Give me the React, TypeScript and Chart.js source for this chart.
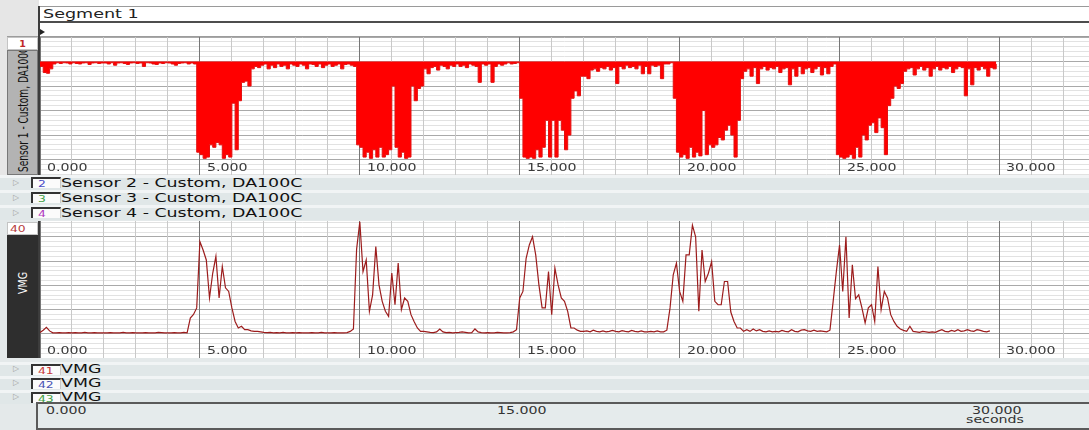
import React, { useEffect, useRef } from "react";
import { Chart, registerables } from "chart.js";

Chart.register(...registerables);

// ---------- data ----------
const STEP = 0.1; // seconds between samples
const X_MAX = 32.8;
const X_MAJOR = [0, 5, 10, 15, 20, 25, 30];
const X_LABELS = ["0.000", "5.000", "10.000", "15.000", "20.000", "25.000", "30.000"];

// Sensor 1 - Custom, DA100C (t = 0.0 ... 29.9 s)
const SENSOR1 = [
  -0.2, -0.45, -0.48, -0.3, -0.1, -0.05, -0.08, -0.05, -0.06, -0.1,
  -0.05, -0.08, -0.1, -0.06, -0.05, -0.12, -0.06, -0.05, -0.08, -0.06,
  -0.06, -0.1, -0.05, -0.15, -0.06, -0.05, -0.08, -0.12, -0.06, -0.05,
  -0.08, -0.06, -0.2, -0.05, -0.06, -0.1, -0.12, -0.06, -0.08, -0.05,
  -0.06, -0.1, -0.15, -0.08, -0.06, -0.05, -0.1, -0.06, -0.1, -3.7,
  -3.8, -3.95, -3.9, -3.4, -3.5, -3.3, -3.4, -3.95, -3.8, -3.9,
  -1.7, -3.6, -1.6, -0.85, -0.8, -1.0, -0.3, -0.2, -0.25, -0.15,
  -0.1, -0.3, -0.15, -0.25, -0.1, -0.2, -0.15, -0.3, -0.1, -0.15,
  -0.2, -0.1, -0.15, -0.3, -0.1, -0.12, -0.2, -0.1, -0.25, -0.15,
  -0.1, -0.2, -0.15, -0.1, -0.3, -0.12, -0.1, -0.15, -0.2, -3.4,
  -3.5, -3.9, -3.7, -3.95, -3.6, -3.9, -3.5, -3.9, -3.8, -3.6,
  -1.0, -3.5, -3.9, -3.7, -3.95, -3.9, -1.0, -1.6, -1.1, -1.0,
  -0.3, -0.5, -0.25, -0.2, -0.35, -0.15, -0.2, -0.3, -0.15, -0.2,
  -0.1, -0.2, -0.15, -0.25, -0.1, -0.15, -0.2, -0.85, -0.1, -0.15,
  -0.1, -0.85, -0.2, -0.1, -0.15, -0.1, -0.05, -0.1, -0.08, -0.05,
  -1.5, -3.9, -3.95, -3.9, -3.95, -3.6, -3.9, -3.5, -2.4, -3.9,
  -2.4, -3.9, -2.4, -2.8, -3.6, -3.0, -1.5, -1.2, -1.4, -0.6,
  -0.6, -0.7, -0.35, -0.3, -0.4, -0.25, -0.3, -0.2, -0.35, -0.25,
  -0.9, -0.2, -0.3, -0.15, -0.25, -0.2, -0.3, -0.15, -0.5, -0.2,
  -0.5, -0.15, -0.2, -0.15, -0.7, -0.1, -0.1, -0.05, -1.5, -3.7,
  -3.9, -3.8, -3.95, -3.5, -3.9, -3.7, -3.85, -2.0, -3.8, -3.4,
  -3.5, -3.4, -3.1, -3.2, -2.8, -2.6, -3.0, -3.9, -2.4, -0.7,
  -0.4, -0.3, -0.6, -0.25, -0.9, -0.3, -0.2, -0.35, -0.25, -0.3,
  -0.2, -0.45, -0.3, -0.25, -0.95, -0.3, -0.6, -0.2, -0.5, -0.3,
  -0.25, -0.45, -0.3, -0.2, -0.55, -0.25, -0.5, -0.2, -0.1, -3.8,
  -3.9, -3.95, -3.9, -3.8, -3.95, -3.5, -3.9, -3.0, -3.2, -2.6,
  -2.5, -2.9, -2.3, -2.7, -3.8, -1.8, -1.5, -1.0, -1.1, -0.9,
  -0.4, -0.3, -0.25, -0.55, -0.3, -0.2, -0.35, -0.25, -0.6, -0.3,
  -0.2, -0.35, -0.25, -0.3, -0.2, -0.45, -0.3, -0.2, -0.25, -1.4,
  -0.3, -0.95, -0.25, -0.35, -0.2, -0.3, -0.6, -0.25, -0.3, -0.1,
];

// VMG (t = 0.0 ... 29.7 s)
const VMG = [
  10.5, 11.5, 12.7, 11.2, 10.4, 10.4, 10.5, 10.4, 10.4, 10.5,
  10.4, 10.5, 10.4, 10.4, 10.6, 10.4, 10.4, 10.5, 10.4, 10.4,
  10.4, 10.4, 10.5, 10.4, 10.4, 10.4, 10.6, 10.4, 10.4, 10.5,
  10.4, 10.4, 10.4, 10.5, 10.4, 10.4, 10.4, 10.6, 10.5, 10.4,
  10.4, 10.4, 10.5, 10.4, 10.4, 10.6, 10.4, 16.5, 18.0, 20.7,
  48.1, 44.6, 40.5, 24.8, 35.0, 42.0, 24.8, 37.8, 29.0, 27.5,
  20.7, 15.1, 12.4, 13.1, 11.7, 11.7, 11.2, 11.0, 11.0, 10.8,
  10.6, 10.5, 10.6, 10.4, 10.5, 10.4, 10.6, 10.4, 10.4, 10.5,
  10.4, 10.5, 10.4, 10.4, 10.4, 10.5, 10.4, 10.4, 10.6, 10.4,
  10.4, 10.4, 10.5, 10.4, 10.4, 10.4, 10.5, 11.0, 12.0, 45.0,
  56.3, 35.7, 40.5, 19.3, 26.1, 46.0, 30.2, 23.4, 19.3, 17.2,
  35.1, 22.0, 39.2, 20.0, 24.8, 23.4, 17.9, 15.0, 12.4, 11.0,
  11.0, 10.8, 10.6, 10.5, 10.8, 12.0, 10.8, 10.5, 10.6, 10.4,
  10.5, 10.6, 10.8, 10.6, 10.4, 10.5, 12.0, 10.8, 10.5, 10.4,
  10.5, 10.4, 10.4, 10.6, 10.5, 10.4, 10.4, 10.5, 10.8, 11.7,
  24.8, 27.5, 41.2, 46.7, 50.1, 42.6, 30.2, 20.7, 20.7, 35.7,
  17.9, 37.1, 30.2, 24.8, 23.4, 19.3, 12.4, 12.4, 11.5, 11.0,
  11.0, 11.2, 10.8, 11.5, 11.0, 10.8, 11.2, 10.8, 11.0, 11.4,
  11.0, 10.8, 11.3, 11.0, 10.8, 11.4, 11.0, 10.8, 11.2, 10.8,
  10.8, 11.0, 10.8, 11.2, 10.8, 10.8, 11.5, 20.7, 34.4, 39.2,
  27.5, 23.4, 42.6, 42.6, 54.9, 50.1, 19.3, 44.6, 31.6, 35.0,
  39.8, 23.4, 22.0, 22.0, 31.6, 31.6, 19.0, 15.1, 12.4, 12.4,
  11.0, 11.7, 11.0, 12.0, 11.2, 11.7, 11.0, 10.8, 11.2, 10.8,
  11.0, 10.8, 11.4, 11.0, 10.8, 11.7, 11.0, 10.8, 11.5, 11.7,
  11.2, 11.0, 11.5, 11.0, 11.2, 11.0, 10.8, 11.5, 23.4, 35.7,
  46.7, 27.5, 50.1, 16.5, 38.5, 24.5, 26.1, 20.7, 14.5, 20.7,
  22.0, 15.1, 37.8, 20.0, 27.5, 24.8, 17.9, 15.1, 13.1, 12.0,
  11.4, 11.0, 13.1, 11.0, 10.8, 10.6, 11.0, 10.8, 10.6, 10.8,
  10.6, 11.2, 11.7, 11.0, 10.8, 11.4, 11.0, 11.7, 11.0, 11.2,
  11.7, 11.2, 11.0, 11.7, 11.4, 11.0, 10.8, 11.2,
];

const S1_RANGE = [-4.63, 1];
const VMG_RANGE = [0, 56.6];

const UPPER_ROWS = [
  ["2", "#4b4bc6", "Sensor 2 - Custom, DA100C"],
  ["3", "#3f9f45", "Sensor 3 - Custom, DA100C"],
  ["4", "#b03cc0", "Sensor 4 - Custom, DA100C"],
];
const LOWER_ROWS = [
  ["41", "#c83c3c", "VMG"],
  ["42", "#4a55b5", "VMG"],
  ["43", "#3f9f45", "VMG"],
];
const RULER_LABELS = ["0.000", "15.000", "30.000"];
const RULER_UNIT = "seconds";

// ---------- chart helpers ----------
const insideLabels = {
  id: "insideLabels",
  afterDraw(chart: any) {
    const { ctx, chartArea } = chart;
    const xs = chart.scales.x;
    ctx.save();
    ctx.fillStyle = "#3a3a3a";
    ctx.font = '10.5px "DejaVu Sans"';
    ctx.textAlign = "left";
    ctx.textBaseline = "alphabetic";
    X_MAJOR.forEach((v, i) => {
      ctx.save();
      ctx.translate(Math.round(xs.getPixelForValue(v)) + 7, chartArea.bottom - 4);
      ctx.scale(1.35, 1);
      ctx.fillText(X_LABELS[i], 0, 0);
      ctx.restore();
    });
    ctx.restore();
  },
};

function makeConfig(values: number[], range: number[], step: number, ds: any): any {
  return {
    type: "line",
    data: {
      datasets: [
        {
          data: values.map((v, i) => ({ x: Math.round(i * STEP * 10) / 10, y: v })),
          pointRadius: 0,
          tension: 0,
          ...ds,
        },
      ],
    },
    options: {
      animation: false,
      responsive: false,
      events: [],
      layout: { padding: 0 },
      plugins: { legend: { display: false }, tooltip: { enabled: false } },
      scales: {
        y: {
          type: "linear",
          min: range[0],
          max: range[1],
          ticks: { display: false, stepSize: step, includeBounds: false },
          grid: {
            z: -1,
            drawTicks: false,
            color: (c: any) => {
              const r = c.tick ? c.tick.value / (step * 5) : 0.5;
              return Math.abs(r - Math.round(r)) < 1e-6 ? "#a9a9a9" : "#e2e2e2";
            },
          },
          border: { display: false },
        },
        x: {
          type: "linear",
          min: 0,
          max: X_MAX,
          ticks: { display: false, stepSize: 1, includeBounds: false },
          grid: {
            drawTicks: false,
            color: (c: any) =>
              c.tick && Math.abs(c.tick.value % 5) < 1e-6 ? "#767676" : "#c9c9c9",
          },
          border: { display: false },
        },
      },
    },
    plugins: [insideLabels],
  };
}

function ChartCanvas({ make, width, height }: { make: () => any; width: number; height: number }) {
  const ref = useRef<HTMLCanvasElement | null>(null);
  useEffect(() => {
    const chart = new Chart(ref.current as HTMLCanvasElement, make());
    return () => chart.destroy();
  }, []);
  return (
    <canvas
      ref={ref}
      width={width}
      height={height}
      style={{ display: "block", width, height, background: "#ffffff" }}
    />
  );
}

// ---------- UI helpers ----------
function Txt({ left, top, size, lh, color, children, sx = 1.35, weight = "normal" }: any) {
  return (
    <div
      style={{
        position: "absolute",
        left,
        top,
        fontSize: size,
        lineHeight: `${lh}px`,
        color,
        whiteSpace: "nowrap",
        transform: `scaleX(${sx})`,
        transformOrigin: "0 0",
        fontWeight: weight,
      }}
    >
      {children}
    </div>
  );
}

function Row({ top, height, num, color, label }: any) {
  return (
    <div
      style={{
        position: "absolute",
        left: 0,
        top,
        width: 1089,
        height,
        background: "linear-gradient(#f1f4f5 0px, #f1f4f5 3px, #e0e7e8 3px)",
      }}
    >
      <div style={{ position: "absolute", left: 13, top: 0, lineHeight: `${height}px`, fontSize: 8, color: "#a4a4a4" }}>
        ▷
      </div>
      <div
        style={{
          position: "absolute",
          left: 31,
          top: 2,
          width: 30,
          height: 11,
          boxSizing: "border-box",
          background: "#fbfbfb",
          borderLeft: "2px solid #333",
          borderTop: "2px solid #333",
          borderRight: "1px solid #c8c8c8",
        }}
      />
      <Txt left={38} top={2} size={9.5} lh={13} color={color} sx={1.3}>
        {num}
      </Txt>
      <Txt left={61} top={0} size={12.5} lh={height} color="#111" sx={1.39}>
        {label}
      </Txt>
    </div>
  );
}

export default function App() {
  return (
    <div
      style={{
        position: "fixed",
        left: 0,
        top: 0,
        width: 1089,
        height: 430,
        overflow: "hidden",
        background: "#e4e9ea",
        fontFamily: '"DejaVu Sans", Verdana, sans-serif',
      }}
    >
      {/* header */}
      <div style={{ position: "absolute", left: 0, top: 0, width: 39, height: 36, background: "#e6e6e6" }} />
      <div style={{ position: "absolute", left: 39, top: 0, width: 1050, height: 36, background: "#fff" }} />
      <div
        style={{
          position: "absolute",
          left: 39,
          top: 6,
          width: 1050,
          height: 17,
          boxSizing: "border-box",
          borderTop: "1px solid #9a9a9a",
          borderBottom: "2px solid #4d4d4d",
        }}
      />
      <Txt left={43} top={6} size={13} lh={16} color="#222">
        Segment 1
      </Txt>
      <div
        style={{
          position: "absolute",
          left: 40,
          top: 29,
          width: 0,
          height: 0,
          borderTop: "3px solid transparent",
          borderBottom: "3px solid transparent",
          borderLeft: "5px solid #222",
        }}
      />

      {/* chart 1 label column */}
      <div style={{ position: "absolute", left: 0, top: 36, width: 39, height: 139, background: "#e6e6e6" }} />
      <div
        style={{
          position: "absolute",
          left: 7,
          top: 37,
          width: 31,
          height: 13,
          boxSizing: "border-box",
          background: "#fff",
          border: "1px solid #c4c4c4",
          color: "#c02828",
          fontSize: 9.5,
          lineHeight: "11px",
          textAlign: "center",
          fontWeight: "bold",
        }}
      >
        1
      </div>
      <div
        style={{
          position: "absolute",
          left: 7,
          top: 50,
          width: 31,
          height: 125,
          boxSizing: "border-box",
          background: "#b3b3b3",
          border: "1px solid #777",
          overflow: "hidden",
        }}
      >
        <div
          style={{
            position: "absolute",
            left: 6,
            top: 121,
            fontSize: 10.5,
            lineHeight: "12px",
            color: "#111",
            whiteSpace: "nowrap",
            transformOrigin: "0 0",
            transform: "rotate(-90deg) scale(0.86, 1.4)",
          }}
        >
          Sensor 1 - Custom, DA100C
        </div>
      </div>
      <div style={{ position: "absolute", left: 7, top: 36, width: 1082, height: 1, background: "#9c9c9c" }} />
      <div style={{ position: "absolute", left: 38, top: 6, width: 1.5, height: 170, background: "#3c3c3c" }} />

      {/* chart 1 */}
      <div style={{ position: "absolute", left: 40, top: 37 }}>
        <ChartCanvas
          width={1049}
          height={138}
          make={() =>
            makeConfig(SENSOR1, S1_RANGE, 0.2, {
              borderColor: "#e41010",
              backgroundColor: "#ff0000",
              borderWidth: 1,
              fill: "origin",
              stepped: true,
            })
          }
        />
      </div>

      {/* upper collapsed rows */}
      {UPPER_ROWS.map((r, i) => (
        <Row key={r[0]} top={175 + i * 15} height={15} num={r[0]} color={r[1]} label={r[2]} />
      ))}

      {/* chart 2 label column */}
      <div
        style={{
          position: "absolute",
          left: 7,
          top: 222,
          width: 31,
          height: 13,
          boxSizing: "border-box",
          background: "#fff",
          border: "1px solid #c4c4c4",
        }}
      />
      <Txt left={10} top={222} size={9.5} lh={13} color="#b84040" sx={1.3}>
        40
      </Txt>
      <div
        style={{
          position: "absolute",
          left: 7,
          top: 235,
          width: 31,
          height: 123,
          background: "#2e2e2e",
          overflow: "hidden",
        }}
      >
        <div
          style={{
            position: "absolute",
            left: 8,
            top: 59,
            fontSize: 9.5,
            lineHeight: "11px",
            color: "#fff",
            whiteSpace: "nowrap",
            transformOrigin: "0 0",
            transform: "rotate(-90deg) scaleY(1.35)",
          }}
        >
          VMG
        </div>
      </div>
      <div style={{ position: "absolute", left: 38, top: 221, width: 1.5, height: 137, background: "#3c3c3c" }} />

      {/* chart 2 */}
      <div style={{ position: "absolute", left: 40, top: 221 }}>
        <ChartCanvas
          width={1049}
          height={137}
          make={() =>
            makeConfig(VMG, VMG_RANGE, 2, {
              borderColor: "#9c1c1c",
              borderWidth: 1.2,
              fill: false,
            })
          }
        />
      </div>

      {/* lower collapsed rows */}
      {LOWER_ROWS.map((r, i) => (
        <Row key={r[0]} top={362 + i * 14} height={14} num={r[0]} color={r[1]} label={r[2]} />
      ))}

      {/* overview ruler */}
      <div
        style={{
          position: "absolute",
          left: 36,
          top: 402,
          width: 1053,
          height: 28,
          boxSizing: "border-box",
          background: "#e5ebec",
          borderTop: "2px solid #5a5a5a",
          borderLeft: "2px solid #5a5a5a",
          borderBottom: "2px solid #5a5a5a",
        }}
      />
      <Txt left={46} top={404} size={10.5} lh={13} color="#333">
        {RULER_LABELS[0]}
      </Txt>
      <Txt left={497} top={404} size={10.5} lh={13} color="#333">
        {RULER_LABELS[1]}
      </Txt>
      <Txt left={972} top={404} size={10.5} lh={13} color="#333">
        {RULER_LABELS[2]}
      </Txt>
      <Txt left={966} top={413} size={10.5} lh={13} color="#333">
        {RULER_UNIT}
      </Txt>
    </div>
  );
}
